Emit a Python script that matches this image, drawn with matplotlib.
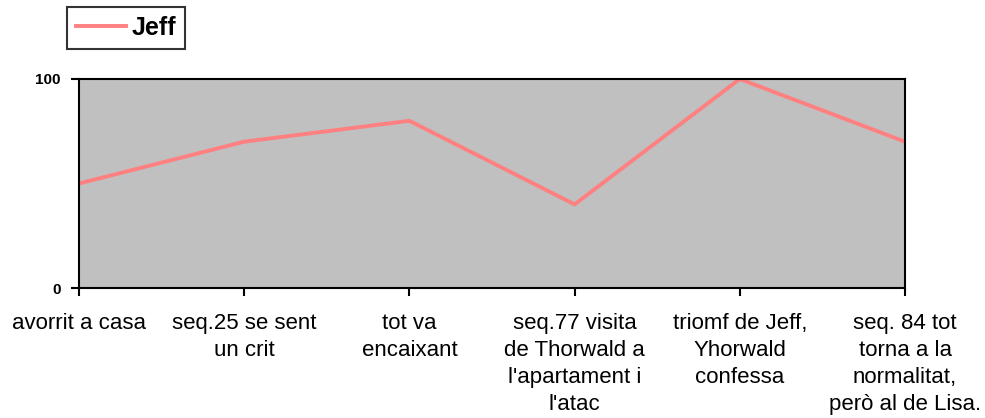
import matplotlib.pyplot as plt

plt.rcParams['font.family'] = ['Liberation Sans', 'DejaVu Sans']

# Data
labels = ['avorrit a casa', 'seq.25 se sent\nun crit', 'tot va\nencaixant',
          "seq.77 visita\nde Thorwald a\nl'apartament i\nl'atac",
          'triomf de Jeff,\nYhorwald\nconfessa',
          'seq. 84 tot\ntorna a la\nnormalitat,\nperò al de Lisa.']
jeff = [50, 70, 80, 40, 100, 70]

fig = plt.figure(figsize=(9.85, 4.18), dpi=100)
ax = fig.add_axes([79 / 985, 1 - 288 / 418, 826 / 985, 209 / 418])
ax.set_facecolor('#C0C0C0')

x = list(range(len(labels)))
ax.plot(x, jeff, color='#FF8080', linewidth=2.8, label='Jeff')

ax.set_xlim(0, len(labels) - 1)
ax.set_ylim(0, 100)
ax.set_xticks(x)
ax.set_xticklabels(labels, fontsize=16, linespacing=1.37, va='top')
ax.set_yticks([0, 100])
ax.set_yticklabels(['0', '100'], fontsize=11, fontweight='bold')
ax.tick_params(axis='x', length=6, width=1.5, pad=12, color='black')
ax.tick_params(axis='y', length=6, width=1.5, pad=7, color='black')

for s in ax.spines.values():
    s.set_linewidth(1.5)
    s.set_color('black')

leg = fig.legend(loc='upper left', bbox_to_anchor=(67 / 985, 1 - 7 / 418),
                 prop={'size': 18, 'weight': 'bold'}, frameon=True, fancybox=False,
                 handlelength=2.0, handletextpad=0.25, borderpad=0.35,
                 borderaxespad=0)
leg.get_frame().set_edgecolor('black')
leg.get_frame().set_linewidth(1.5)

fig.savefig('out.png', dpi=100)
